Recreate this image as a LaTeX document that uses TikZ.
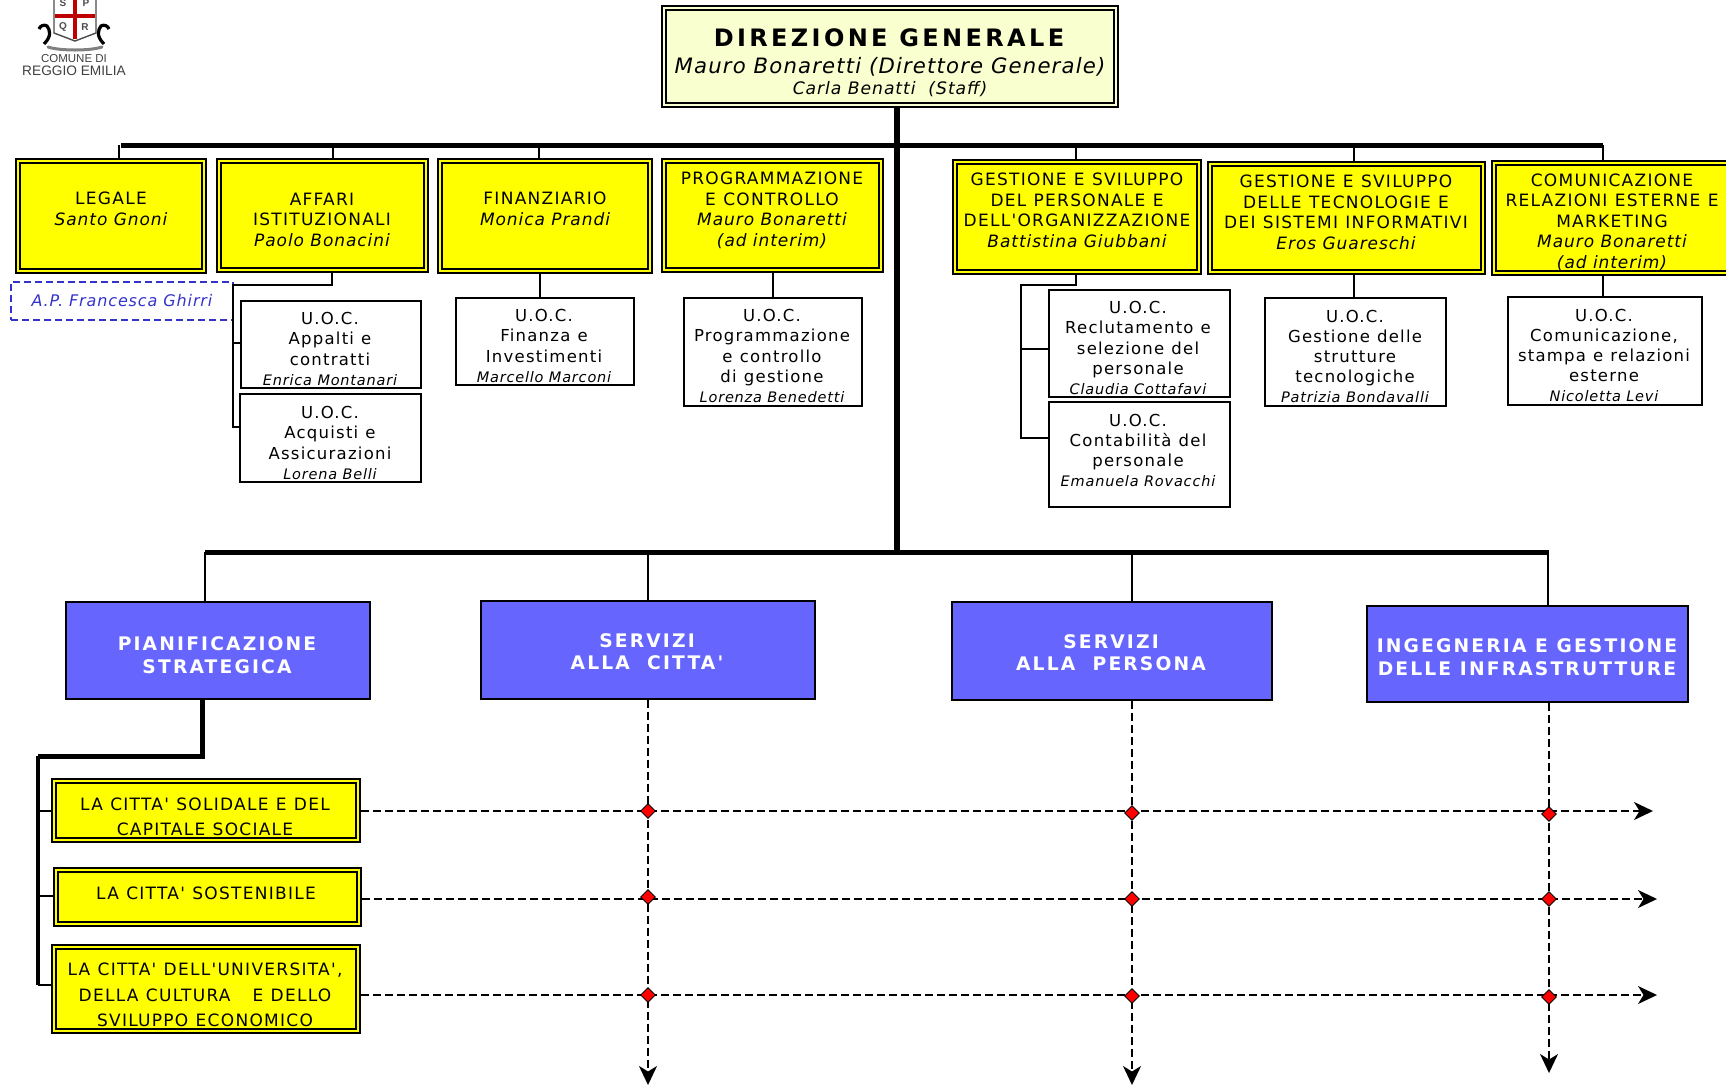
\documentclass[tikz,border=0pt]{standalone}
\usepackage{fontspec}
\usetikzlibrary{arrows.meta,shapes.geometric}
\newfontfamily\df[LetterSpace=7.5,WordSpace=1.1]{DejaVu Sans}
\newfontfamily\dfi[LetterSpace=5.5]{DejaVu Sans}
\newfontfamily\dfw[LetterSpace=11.5]{DejaVu Sans}
\newfontfamily\dft[LetterSpace=14]{DejaVu Sans}
\newfontfamily\lgf{Liberation Sans}
\definecolor{pale}{HTML}{F9FFCF}
\definecolor{ybox}{HTML}{FFFF00}
\definecolor{redm}{HTML}{FF0000}
\definecolor{bluebox}{HTML}{6666FF}
\definecolor{apblue}{HTML}{3333CC}
\newcommand{\nm}[1]{{\dfi\itshape #1}}
\newcommand{\nmS}[1]{{\dfi\itshape\fontsize{14.5}{20}\selectfont #1}}
\tikzset{
  x=1pt,y=-1pt,
  dblbox/.style={rectangle,draw=black,line width=1.9pt,double=#1,double distance=2.2pt,fill=#1,inner sep=0pt,outer sep=3pt},
  whitebox/.style={rectangle,draw=black,line width=1.5pt,fill=white,inner sep=0pt},
  apbox/.style={rectangle,draw=apblue,line width=1.5pt,dash pattern=on 7pt off 4pt,inner sep=0pt},
  bluefill/.style={rectangle,draw=black,line width=1.3pt,fill=bluebox,inner sep=0pt},
  lblA/.style={align=center,inner sep=0pt,font=\df\fontsize{17}{20.5}\selectfont},
  lblB/.style={align=center,inner sep=0pt,font=\df\fontsize{16.5}{20.2}\selectfont},
  lblC/.style={align=center,inner sep=0pt,font=\df\fontsize{17}{25.3}\selectfont},
  lblW/.style={align=center,inner sep=0pt,text=white,font=\dfw\bfseries\fontsize{18.7}{22.5}\selectfont},
  conn/.style={draw=black,line width=1.5pt},
  thickconn/.style={draw=black,line width=5pt},
  trunk/.style={draw=black,line width=6pt},
  dashconn/.style={draw=black,line width=1.5pt,dash pattern=on 8pt off 4pt,-{Stealth[length=19pt,width=18pt,inset=5.5pt]}},
  markd/.style={diamond,draw=black,line width=0.9pt,fill=redm,inner sep=0pt,minimum width=15pt,minimum height=15pt},
}
\newcommand{\bx}[7]{\node[#1,minimum width={#5-#3-#7},minimum height={#6-#4-#7}] (#2) at ({(#3+#5)/2},{(#4+#6)/2}) {};}
\begin{document}
\begin{tikzpicture}
\useasboundingbox (0,0) rectangle (1726,1085);
% logo
\draw[gray!60!black,line width=1.4pt,fill=white] (54,-3) -- (96,-3) -- (96,33) -- (75,41) -- (54,33) -- cycle;
\fill[red!75!black] (73,-3) rectangle (77,39);
\fill[red!75!black] (55,13.5) rectangle (95,17.5);
\node[font=\lgf\bfseries\fontsize{10}{10}\selectfont,text=black!70,inner sep=0] (lS) at (63,3) {S};
\node[font=\lgf\bfseries\fontsize{10}{10}\selectfont,text=black!70,inner sep=0] (lP) at (86,3) {P};
\node[font=\lgf\bfseries\fontsize{10}{10}\selectfont,text=black!70,inner sep=0] (lQ) at (63,27) {Q};
\node[font=\lgf\bfseries\fontsize{10}{10}\selectfont,text=black!70,inner sep=0] (lR) at (85,27) {R};
\draw[black,line width=3.2pt] (44,44) .. controls (52,36) and (50,30) .. (47,26) .. controls (44,24) and (40,26) .. (39,29);
\draw[black,line width=3.2pt] (104,44) .. controls (96,36) and (98,30) .. (101,26) .. controls (104,24) and (108,26) .. (109,29);
\draw[gray,line width=3pt,line cap=round] (48,47) .. controls (60,51) and (90,51) .. (102,47);
\node[font=\lgf\fontsize{11.5}{12}\selectfont,text=black!75,inner sep=0] (lc) at (74,59) {COMUNE DI};
\node[font=\lgf\fontsize{13.7}{14}\selectfont,text=black!75,inner sep=0] (lr) at (74,71) {REGGIO EMILIA};

% top box
\bx{dblbox=pale}{dg}{661}{5}{1119}{108}{6}
\node[align=center,inner sep=0pt,font=\dft\bfseries\fontsize{24}{24}\selectfont] (dg1) at (889,38) {DIREZIONE GENERALE};
\node[align=center,inner sep=0pt,font=\dfi\itshape\fontsize{21.2}{22}\selectfont] (dg2) at (890,67) {Mauro Bonaretti (Direttore Generale)};
\node[align=center,inner sep=0pt,font=\dfi\itshape\fontsize{17.2}{18}\selectfont] (dg3) at (890,89) {Carla Benatti~~(Staff)};

% yellow row
\bx{dblbox=ybox}{leg}{15}{158}{207}{274}{6}
\node[lblA] (legt) at (111,209) {LEGALE\\\nm{Santo Gnoni}};
\bx{dblbox=ybox}{aff}{216}{158}{429}{273}{6}
\node[lblA] (afft) at (322,219.5) {AFFARI\\ISTITUZIONALI\\\nm{Paolo Bonacini}};
\bx{dblbox=ybox}{fin}{437}{158}{653}{274}{6}
\node[lblA] (fint) at (545,209) {FINANZIARIO\\\nm{Monica Prandi}};
\bx{dblbox=ybox}{prg}{661}{158}{884}{273}{6}
\node[lblA] (prgt) at (772,210.5) {PROGRAMMAZIONE\\E CONTROLLO\\\nm{Mauro Bonaretti}\\\nm{(ad interim)}};
\bx{dblbox=ybox}{per}{952}{159}{1202}{275}{6}
\node[lblA] (pert) at (1077,210.5) {GESTIONE E SVILUPPO\\DEL PERSONALE E\\DELL'ORGANIZZAZIONE\\\nm{Battistina Giubbani}};
\bx{dblbox=ybox}{tec}{1207}{161}{1486}{275}{6}
\node[lblA] (tect) at (1346,212.5) {GESTIONE E SVILUPPO\\DELLE TECNOLOGIE E\\DEI SISTEMI INFORMATIVI\\\nm{Eros Guareschi}};
\bx{dblbox=ybox}{com}{1491}{160}{1745}{276}{6}
\node[lblA] (comt) at (1612,222) {COMUNICAZIONE\\RELAZIONI ESTERNE E\\MARKETING\\\nm{Mauro Bonaretti}\\\nm{(ad interim)}};

% AP box
\bx{apbox}{ap}{11}{282}{233}{320}{0}
\node[lblB,text=apblue,font=\df\fontsize{16}{20}\selectfont] (apt) at (122,301) {\nm{A.P. Francesca Ghirri}};

% UOC boxes
\bx{whitebox}{u1}{241}{301}{421}{388}{0}
\node[lblB] (u1t) at (330,349) {U.O.C.\\Appalti e\\contratti\\\nmS{Enrica Montanari}};
\bx{whitebox}{u2}{240}{394}{421}{482}{0}
\node[lblB] (u2t) at (330,443) {U.O.C.\\Acquisti e\\Assicurazioni\\\nmS{Lorena Belli}};
\bx{whitebox}{u3}{456}{298}{634}{385}{0}
\node[lblB] (u3t) at (544,346) {U.O.C.\\Finanza e\\Investimenti\\\nmS{Marcello Marconi}};
\bx{whitebox}{u4}{684}{298}{862}{406}{0}
\node[lblB] (u4t) at (772,356) {U.O.C.\\Programmazione\\e controllo\\di gestione\\\nmS{Lorenza Benedetti}};
\bx{whitebox}{u5}{1049}{290}{1230}{397}{0}
\node[lblB] (u5t) at (1138,348) {U.O.C.\\Reclutamento e\\selezione del\\personale\\\nmS{Claudia Cottafavi}};
\bx{whitebox}{u6}{1049}{402}{1230}{507}{0}
\node[lblB] (u6t) at (1138,450.5) {U.O.C.\\Contabilità del\\personale\\\nmS{Emanuela Rovacchi}};
\bx{whitebox}{u7}{1265}{298}{1446}{406}{0}
\node[lblB] (u7t) at (1355,356.5) {U.O.C.\\Gestione delle\\strutture\\tecnologiche\\\nmS{Patrizia Bondavalli}};
\bx{whitebox}{u8}{1508}{297}{1702}{405}{0}
\node[lblB] (u8t) at (1604,355.5) {U.O.C.\\Comunicazione,\\stampa e relazioni\\esterne\\\nmS{Nicoletta Levi}};

% blue boxes
\bx{bluefill}{b1}{66}{602}{370}{699}{0}
\node[lblW] (b1t) at (217,655) {PIANIFICAZIONE\\STRATEGICA};
\bx{bluefill}{b2}{481}{601}{815}{699}{0}
\node[lblW] (b2t) at (647,651.5) {SERVIZI\\ALLA~~CITTA'};
\bx{bluefill}{b3}{952}{602}{1272}{700}{0}
\node[lblW] (b3t) at (1111,652.5) {SERVIZI\\ALLA~~PERSONA};
\bx{bluefill}{b4}{1367}{606}{1688}{702}{0}
\node[lblW] (b4t) at (1527,657) {INGEGNERIA E GESTIONE\\DELLE INFRASTRUTTURE};

% line boxes
\bx{dblbox=ybox}{l1}{51}{778}{361}{843}{6}
\node[lblC] (l1t) at (205,817) {LA CITTA' SOLIDALE E DEL\\CAPITALE SOCIALE};
\bx{dblbox=ybox}{l2}{53}{867}{362}{927}{6}
\node[lblC] (l2t) at (206,893.5) {LA CITTA' SOSTENIBILE};
\bx{dblbox=ybox}{l3}{51}{944}{361}{1034}{6}
\node[lblC] (l3t) at (205,995) {LA CITTA' DELL'UNIVERSITA',\\DELLA CULTURA~~~E DELLO\\SVILUPPO ECONOMICO};

% coordinates
\coordinate (b1L) at (121,145);
\coordinate (b1R) at (1603,145);
\coordinate (b2L) at (205,552);
\coordinate (b2R) at (1549,552);
\coordinate (tk) at (897,552);
\coordinate (v2) at (648,552);
\coordinate (v3) at (1132,552);
\coordinate (v4) at (1548,552);
\coordinate (h1) at (233,285);
\coordinate (h2) at (1021,285);
\coordinate (s1) at (202,756);
\coordinate (s2) at (38,756);
\coordinate (e1) at (1653,811);
\coordinate (e2) at (1657,899);
\coordinate (e3) at (1657,995);
\coordinate (e4) at (648,1085);
\coordinate (e5) at (1132,1085);
\coordinate (e6) at (1549,1073);

% thick connectors
\draw[trunk] (dg.south -| tk) -- (tk);
\draw[thickconn] (b1L) -- (b1R);
\draw[thickconn] (b2L) -- (b2R);
\draw[thickconn] (b1.south -| s1) -- (s1) -- (s2);
\draw[draw=black,line width=3.5pt] (s2) -- (38,985) coordinate (s3);

% thin connectors, top row
\draw[conn] (119,145) -- (119,158);
\draw[conn] (333,145) -- (333,158);
\draw[conn] (539,145) -- (539,158);
\draw[conn] (1076,145) -- (1076,159);
\draw[conn] (1354,145) -- (1354,161);
\draw[conn] (1603,145) -- (1603,160);

\draw[conn] (332,273) -- (332,285) -- (h1) |- (u2.west |- 0,427);
\draw[conn] (232,343) -- (u1.west |- 0,343);
\draw[conn] (540,274) -- (u3.north -| 540,0);
\draw[conn] (773,273) -- (u4.north -| 773,0);
\draw[conn] (1076,275) -- (1076,285) -- (h2) |- (u6.west |- 0,438);
\draw[conn] (h2 |- 0,349) -- (u5.west |- 0,349);
\draw[conn] (1354,275) -- (u7.north -| 1354,0);
\draw[conn] (1603,276) -- (u8.north -| 1603,0);

% line connectors
\draw[conn] (s2 |- 0,811) -- (l1.west |- 0,811);
\draw[conn] (s2 |- 0,896) -- (l2.west |- 0,896);
\draw[conn] (s3) -- (l3.west |- 0,985);

% column connectors
\draw[conn] (b2L) -- (b1.north -| b2L);
\draw[conn] (v2) -- (b2.north -| v2);
\draw[conn] (v3) -- (b3.north -| v3);
\draw[conn] (v4) -- (b4.north -| v4);
\draw[dashconn] (b2.south -| e4) -- (e4);
\draw[dashconn] (b3.south -| e5) -- (e5);
\draw[dashconn] (b4.south -| e6) -- (e6);
\draw[dashconn] (l1.east |- e1) -- (e1);
\draw[dashconn] (l2.east |- e2) -- (e2);
\draw[dashconn] (l3.east |- e3) -- (e3);

% markers
\node[markd] (m11) at (648,811) {};
\node[markd] (m12) at (1132,813) {};
\node[markd] (m13) at (1549,814) {};
\node[markd] (m21) at (648,897) {};
\node[markd] (m22) at (1132,899) {};
\node[markd] (m23) at (1549,899) {};
\node[markd] (m31) at (648,995) {};
\node[markd] (m32) at (1132,996) {};
\node[markd] (m33) at (1549,997) {};
\end{tikzpicture}
\end{document}
